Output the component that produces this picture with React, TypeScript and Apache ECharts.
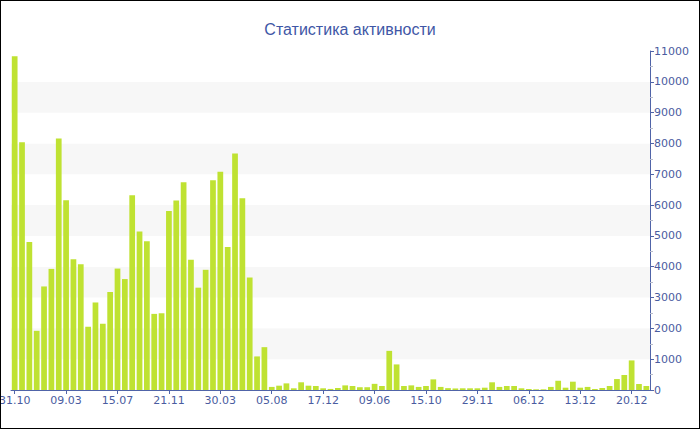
import React, { useEffect, useRef } from "react";
import * as echarts from "echarts";

const titleText = "Статистика активности";

const categories: string[] = [
  "31.10", "18.11", "06.12", "24.12", "11.01", "29.01", "16.02",
  "09.03", "27.03", "14.04", "02.05", "20.05", "07.06", "25.06",
  "15.07", "02.08", "20.08", "07.09", "25.09", "13.10", "31.10",
  "21.11", "09.12", "27.12", "14.01", "01.02", "19.02", "09.03",
  "30.03", "17.04", "05.05", "23.05", "10.06", "28.06", "16.07",
  "05.08", "24.08", "12.09", "01.10", "20.10", "08.11", "27.11",
  "17.12", "11.01", "05.02", "01.03", "26.03", "20.04", "15.05",
  "09.06", "27.06", "15.07", "02.08", "20.08", "07.09", "25.09",
  "15.10", "21.10", "28.10", "03.11", "10.11", "16.11", "22.11",
  "29.11", "30.11", "01.12", "02.12", "03.12", "04.12", "05.12",
  "06.12", "07.12", "08.12", "09.12", "10.12", "11.12", "12.12",
  "13.12", "14.12", "15.12", "16.12", "17.12", "18.12", "19.12",
  "20.12", "21.12", "22.12",
];

const activity: number[] = [
  10830, 8040, 4800, 1920, 3360, 3930, 8160,
  6160, 4240, 4080, 2050, 2840, 2150, 3180,
  3940, 3600, 6320, 5140, 4830, 2470, 2490,
  5810, 6150, 6740, 4230, 3320, 3900, 6810,
  7080, 4640, 7670, 6220, 3650, 1090, 1390,
  100, 140, 215, 55, 250, 140, 130,
  55, 35, 65, 150, 130, 90, 90,
  200, 130, 1270, 830, 130, 150, 100,
  130, 345, 100, 60, 50, 55, 55,
  55, 75, 250, 100, 130, 130, 55,
  32, 22, 22, 100, 300, 75, 270,
  75, 100, 32, 65, 130, 355, 486,
  960, 194, 130,
];

const axisColor = "#5064a8";
const labelColor = "#4a5ca0";
const barColor = "#bfe232";
const font = "'DejaVu Sans', Verdana, sans-serif";

export default function App() {
  const ref = useRef<HTMLDivElement>(null);

  useEffect(() => {
    document.body.style.margin = "0";
    if (!ref.current) return;
    const chart = echarts.init(ref.current, undefined, { renderer: "svg" });
    chart.setOption({
      animation: false,
      backgroundColor: "#ffffff",
      title: {
        text: titleText,
        left: "center",
        top: 15,
        textStyle: {
          color: "#3f57a6",
          fontSize: 16,
          fontWeight: "normal",
          fontFamily: "'Liberation Sans', Arial, sans-serif",
        },
      },
      grid: { left: 10, right: 49, top: 50, bottom: 38, outerBoundsMode: "none", containLabel: false },
      xAxis: {
        type: "category",
        data: categories,
        boundaryGap: true,
        axisLine: { show: true, lineStyle: { color: axisColor, width: 1 } },
        axisTick: {
          show: true,
          interval: 6,
          alignWithLabel: true,
          length: 4,
          lineStyle: { color: axisColor },
        },
        axisLabel: {
          interval: 6,
          color: labelColor,
          fontSize: 11,
          fontFamily: font,
          margin: 5,
          hideOverlap: false,
        },
        splitLine: { show: false },
      },
      yAxis: {
        type: "value",
        position: "right",
        min: 0,
        max: 11000,
        interval: 1000,
        axisLine: { show: true, lineStyle: { color: axisColor, width: 1 } },
        axisTick: { show: true, length: 4, lineStyle: { color: axisColor } },
        minorTick: { show: true, splitNumber: 2, length: 3, lineStyle: { color: "#b8bccc" } },
        axisLabel: {
          color: labelColor,
          fontSize: 11,
          fontFamily: font,
          margin: 4,
          formatter: (v: number) => String(v),
        },
        splitLine: { show: false },
        splitArea: {
          show: true,
          areaStyle: { color: ["#ffffff", "#f7f7f7"] },
        },
      },
      series: [
        {
          type: "bar",
          data: activity,
          barCategoryGap: "22%",
          itemStyle: { color: barColor },
        },
      ],
    });
    return () => chart.dispose();
  }, []);

  return (
    <div
      style={{
        width: 700,
        height: 429,
        border: "1px solid #000",
        boxSizing: "border-box",
        background: "#fff",
      }}
    >
      <div ref={ref} style={{ width: 698, height: 427 }} />
    </div>
  );
}
